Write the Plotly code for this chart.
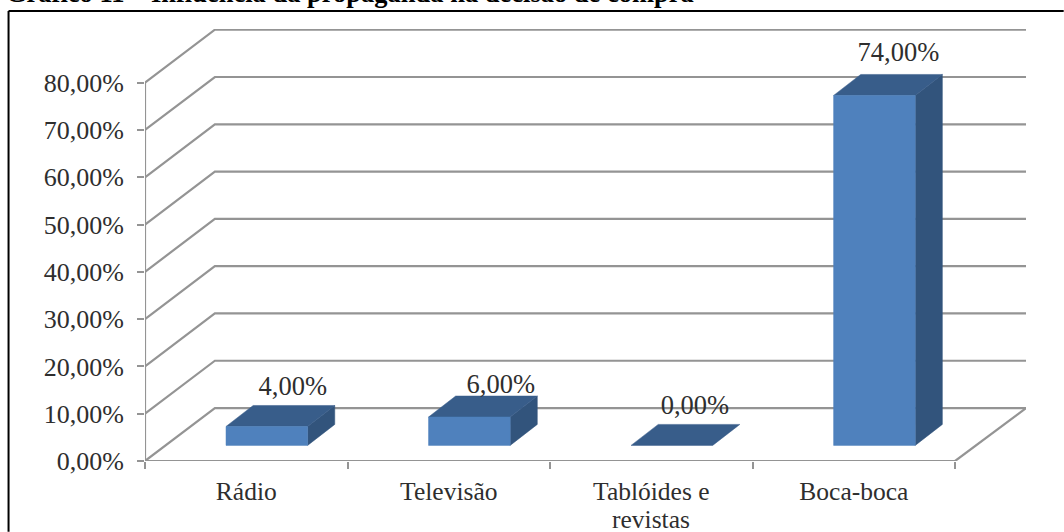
import plotly.graph_objects as go

# Survey results
categories = ["Rádio", "Televisão", "Tablóides e", "Boca-boca"]
category_second_line = "revistas"
values = [4, 6, 0, 74]
value_labels = ["4,00%", "6,00%", "0,00%", "74,00%"]
y_ticks = [0, 10, 20, 30, 40, 50, 60, 70, 80]
y_tick_labels = ["0,00%", "10,00%", "20,00%", "30,00%", "40,00%",
                 "50,00%", "60,00%", "70,00%", "80,00%"]
title_text = "Gráfico 11 – Influência da propaganda na decisão de compra"

FRONT_COLOR = "#4f81bd"
TOP_COLOR = "#385d8a"
SIDE_COLOR = "#32547c"
GRID_COLOR = "#949494"
TEXT_COLOR = "#2e2e2e"
FONT = "Liberation Serif"

# Plot area in page pixels
WIDTH, HEIGHT = 1064, 532
LEFT, RIGHT, TOP, BOTTOM = 145, 37.7, 29, 70.7
PLOT_W = WIDTH - LEFT - RIGHT
PLOT_H = HEIGHT - TOP - BOTTOM

# Oblique projection of the floor, expressed in axis units
DEPTH_X = 0.345
DEPTH_Y = 11.2
X_MAX = 4.35
Y_MAX = 91.35

# Bar placement within each category slot
BAR_START = 0.4
BAR_WIDTH = 0.403
BAR_BASE = 3.3
BAR_DX = 0.134
BAR_DY = 4.44

# Offsets of the value labels from the back corner of each bar top
LABEL_NUDGE_X = [-0.207, -0.18, -0.222, -0.217]
LABEL_NUDGE_Y = [3.6, 2.0, 3.6, 4.2]

fig = go.Figure()


def poly(xs, ys, color):
    fig.add_trace(go.Scatter(x=xs, y=ys, mode="lines", fill="toself",
                             fillcolor=color, line=dict(color=color, width=0.5),
                             hoverinfo="skip", showlegend=False, cliponaxis=False))


def line(xs, ys, width=2.2):
    fig.add_trace(go.Scatter(x=xs, y=ys, mode="lines",
                             line=dict(color=GRID_COLOR, width=width),
                             hoverinfo="skip", showlegend=False, cliponaxis=False))


# Walls: gridlines slant up the left wall and run along the back wall
for t in y_ticks:
    line([0, DEPTH_X, X_MAX], [t, t + DEPTH_Y, t + DEPTH_Y])
# Right edge of the floor and the two front axis lines
line([4, X_MAX], [0, DEPTH_Y])
line([0, 4], [0, 0])
line([0, 0], [0, 80])

# Bars: side face, top face, front face
for i, v in enumerate(values):
    x0 = i + BAR_START
    x1 = x0 + BAR_WIDTH
    y0 = BAR_BASE
    y1 = BAR_BASE + v
    if v > 0:
        poly([x1, x1 + BAR_DX, x1 + BAR_DX, x1, x1],
             [y0, y0 + BAR_DY, y1 + BAR_DY, y1, y0], SIDE_COLOR)
    poly([x0, x1, x1 + BAR_DX, x0 + BAR_DX, x0],
         [y1, y1, y1 + BAR_DY, y1 + BAR_DY, y1], TOP_COLOR)
    if v > 0:
        poly([x0, x1, x1, x0, x0], [y0, y0, y1, y1, y0], FRONT_COLOR)

# Value labels above each bar
fig.add_trace(go.Scatter(
    x=[i + BAR_START + BAR_WIDTH + BAR_DX + LABEL_NUDGE_X[i] for i in range(4)],
    y=[BAR_BASE + v + BAR_DY + LABEL_NUDGE_Y[i] for i, v in enumerate(values)],
    mode="text", text=value_labels, textposition="middle center",
    textfont=dict(family=FONT, size=26.5, color=TEXT_COLOR),
    hoverinfo="skip", showlegend=False, cliponaxis=False))

# Frame edges in paper units: only the left and top sides are drawn
frame_left = (8.5 - LEFT) / PLOT_W
frame_right = (WIDTH - LEFT) / PLOT_W
frame_top = (HEIGHT - BOTTOM - 11) / PLOT_H
frame_bottom = (HEIGHT - BOTTOM - HEIGHT) / PLOT_H
frame_line = dict(color="black", width=2)

fig.update_layout(
    width=WIDTH, height=HEIGHT,
    margin=dict(l=LEFT, r=RIGHT, t=TOP, b=BOTTOM, autoexpand=False),
    paper_bgcolor="white", plot_bgcolor="white", showlegend=False,
    font=dict(family=FONT, size=26, color=TEXT_COLOR),
    xaxis=dict(range=[0, X_MAX], tickmode="array", automargin=False,
               tickvals=[i + 0.5 for i in range(4)], ticktext=categories,
               ticks="", showgrid=False, zeroline=False, showline=False,
               ticklabelstandoff=12,
               tickfont=dict(family=FONT, size=25.5, color=TEXT_COLOR),
               minor=dict(tick0=0, dtick=1, ticks="outside", ticklen=7,
                          tickcolor=GRID_COLOR, tickwidth=2, showgrid=False)),
    yaxis=dict(range=[0, Y_MAX], tickmode="array", automargin=False,
               tickvals=y_ticks,
               ticktext=y_tick_labels, ticks="outside", ticklen=7,
               tickcolor=GRID_COLOR, tickwidth=2, showgrid=False,
               zeroline=False, showline=False, ticklabelstandoff=8,
               tickfont=dict(family=FONT, size=26, color=TEXT_COLOR)),
    shapes=[
        dict(type="line", xref="paper", yref="paper", x0=frame_left, x1=frame_left,
             y0=frame_bottom, y1=frame_top, line=frame_line),
        dict(type="line", xref="paper", yref="paper", x0=frame_left, x1=frame_right,
             y0=frame_top, y1=frame_top, line=frame_line),
    ],
    annotations=[
        dict(text=f"<b>{title_text}</b>", xref="paper", yref="paper",
             x=(5 - LEFT) / PLOT_W, y=(HEIGHT - BOTTOM - 9) / PLOT_H,
             xanchor="left", yanchor="bottom", borderpad=0, showarrow=False,
             font=dict(family=FONT, size=26.5, color="black")),
        # Second line of the third category, set closer than the default leading
        dict(text=category_second_line, xref="x", yref="paper",
             x=2.5, y=(HEIGHT - BOTTOM - 520) / PLOT_H,
             xanchor="center", yanchor="middle", borderpad=0, showarrow=False,
             font=dict(family=FONT, size=25.5, color=TEXT_COLOR)),
    ],
)

fig.write_html("out.html")
